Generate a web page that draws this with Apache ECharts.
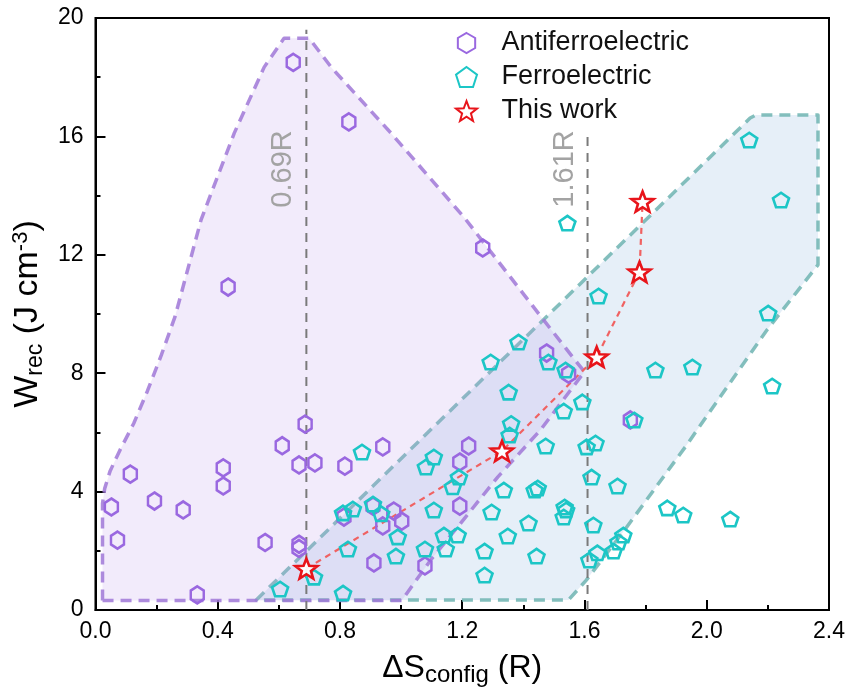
<!DOCTYPE html>
<html>
<head>
<meta charset="utf-8">
<script src="https://cdn.jsdelivr.net/npm/echarts@6/dist/echarts.min.js"></script>
<style>
  html, body { margin: 0; padding: 0; background: #fff; }
  #chart { width: 852px; height: 699px; }
</style>
</head>
<body>
<div id="chart"></div>
<script>
// ---- data ----
const antiferroelectric = [
  [0.052, 3.48], [0.072, 2.36], [0.114, 4.59], [0.193, 3.68], [0.287, 3.38],
  [0.333, 0.51], [0.418, 4.80], [0.418, 4.19], [0.434, 10.91], [0.555, 2.28],
  [0.611, 5.55], [0.647, 18.5], [0.666, 2.22], [0.666, 2.08], [0.666, 4.90],
  [0.686, 6.28], [0.718, 4.97], [0.816, 4.86], [0.813, 3.14], [0.829, 16.49],
  [0.908, 3.51], [0.911, 1.59], [0.940, 5.51], [0.940, 2.84], [0.976, 3.34],
  [1.002, 3.00], [1.078, 1.49], [1.192, 5.00], [1.221, 5.54], [1.192, 3.51],
  [1.267, 12.23], [1.476, 8.68], [1.548, 7.97], [1.750, 6.42]
];
const ferroelectric = [
  [0.604, 0.71], [0.715, 1.11], [0.810, 0.57], [0.826, 2.06], [0.810, 3.28],
  [0.842, 3.41], [0.872, 5.34], [0.908, 3.58], [0.935, 3.25], [0.989, 2.47],
  [0.983, 1.82], [1.078, 2.06], [1.081, 4.83], [1.107, 5.17], [1.107, 3.38],
  [1.140, 2.53], [1.146, 2.06], [1.185, 2.53], [1.169, 4.16], [1.189, 4.49],
  [1.273, 1.99], [1.273, 1.18], [1.296, 3.31], [1.293, 8.38], [1.336, 4.05],
  [1.349, 2.50], [1.352, 7.36], [1.360, 6.30], [1.355, 5.91], [1.384, 9.05],
  [1.417, 2.94], [1.437, 4.05], [1.447, 4.12], [1.443, 1.82], [1.473, 5.54],
  [1.482, 8.38], [1.532, 6.72], [1.538, 8.11], [1.535, 3.48], [1.532, 3.14],
  [1.540, 3.38], [1.544, 13.07], [1.593, 7.03], [1.607, 5.51], [1.636, 5.64],
  [1.623, 4.49], [1.629, 2.87], [1.616, 1.69], [1.642, 1.93], [1.646, 10.61],
  [1.695, 1.99], [1.708, 4.19], [1.711, 2.30], [1.727, 2.53], [1.763, 6.42],
  [1.832, 8.11], [1.871, 3.45], [1.923, 3.21], [1.953, 8.21], [2.077, 3.07],
  [2.139, 15.88], [2.201, 10.03], [2.214, 7.57], [2.243, 13.85]
];
const thisWork = [[0.69, 1.40], [1.33, 5.37], [1.64, 8.55], [1.78, 11.42], [1.79, 13.80]];

// outlines of the two material regions
const afeRegion = [
  [0.023, 0.32], [0.023, 3.60], [0.030, 4.10], [0.048, 4.70], [0.080, 5.40],
  [0.125, 6.30], [0.170, 7.40], [0.215, 8.60], [0.260, 9.90], [0.346, 13.20],
  [0.454, 16.11], [0.552, 18.34], [0.617, 19.32], [0.699, 19.32], [0.771, 18.34],
  [0.967, 16.11], [1.205, 13.28], [1.466, 9.80], [1.577, 8.34], [1.600, 8.05],
  [1.456, 6.08], [1.316, 4.49], [1.211, 3.14], [1.097, 1.69], [1.022, 0.61],
  [1.002, 0.32]
];
const feRegion = [
  [0.526, 0.34], [2.142, 16.62], [2.160, 16.72], [2.364, 16.72], [2.364, 11.66],
  [2.197, 9.46], [1.932, 5.54], [1.736, 2.77], [1.606, 1.01], [1.548, 0.34]
];

// reference entropy lines
const refX = [0.69, 1.61];
const refTop = [19.6, 16.2];
const refText = ['0.69R', '1.61R'];
const refTextY = 14.9;

const xTicks = { min: 0, max: 2.4, step: 0.4 };
const yTicks = { min: 0, max: 20, step: 4 };

// ---- marker shapes ----
const HEX = 'path://M50,0 L93.3,25 L93.3,75 L50,100 L6.7,75 L6.7,25 Z';
const PENT = 'path://M50,0 L97.55,34.55 L79.39,90.45 L20.61,90.45 L2.45,34.55 Z';
function starPath() {
  const R = 50, r = 21, pts = [];
  for (let i = 0; i < 10; i++) {
    const a = -Math.PI / 2 + i * Math.PI / 5;
    const rad = i % 2 === 0 ? R : r;
    pts.push((50 + rad * Math.cos(a)).toFixed(2) + ',' + (50 + rad * Math.sin(a)).toFixed(2));
  }
  return 'path://M' + pts.join(' L') + ' Z';
}
const STAR = starPath();

const FONT = '"Liberation Sans", Arial, sans-serif';

function regionSeries(pts, fill, stroke, z) {
  return {
    type: 'custom', silent: true, z: z,
    data: pts,
    encode: { x: 0, y: 1 },
    renderItem: function (params, api) {
      if (params.dataIndex !== 0) return;
      const points = pts.map(function (p) { return api.coord(p); });
      return {
        type: 'polygon',
        shape: { points: points },
        style: { fill: fill, stroke: stroke, lineWidth: 3.5, lineDash: [11, 7], lineJoin: 'round' }
      };
    }
  };
}

const chart = echarts.init(document.getElementById('chart'), null, { renderer: 'canvas' });

const refLineSeries = refX.map(function (x, i) {
  return {
    type: 'line', silent: true, z: 4, symbol: 'none',
    data: [[x, 0], [x, refTop[i]]],
    lineStyle: { color: '#7a7a7a', width: 2, type: [9, 7] }
  };
});

chart.setOption({
  animation: false,
  backgroundColor: '#fff',
  textStyle: { fontFamily: FONT },
  grid: { left: 94, right: 23, top: 18, bottom: 89, show: true, borderColor: '#000', borderWidth: 2, backgroundColor: 'transparent' },
  legend: {
    data: ['Antiferroelectric', 'Ferroelectric', 'This work'],
    orient: 'vertical', left: 450, top: 23,
    itemWidth: 24, itemHeight: 20, itemGap: 4,
    textStyle: { fontSize: 27, color: '#111', fontFamily: FONT, lineHeight: 30, padding: [0, 0, 0, 18] }
  },
  xAxis: {
    type: 'value', min: xTicks.min, max: xTicks.max, interval: xTicks.step,
    name: '{m|ΔS}{s|config}{m| (R)}', nameLocation: 'middle', nameGap: 38,
    nameTextStyle: {
      rich: {
        m: { fontSize: 32, fontFamily: FONT, color: '#000', lineHeight: 40 },
        s: { fontSize: 24, fontFamily: FONT, color: '#000', lineHeight: 40, padding: [14, 0, 0, 0] }
      }
    },
    axisLine: { onZero: false, lineStyle: { color: '#000', width: 2 } },
    axisTick: { inside: true, length: 10, lineStyle: { color: '#000', width: 2 } },
    minorTick: { show: true, splitNumber: 2, length: 5, lineStyle: { color: '#000', width: 2 } },
    axisLabel: { fontSize: 23, color: '#000', margin: 10, fontFamily: FONT, formatter: function (v) { return v.toFixed(1); } },
    splitLine: { show: false }
  },
  yAxis: {
    type: 'value', min: yTicks.min, max: yTicks.max, interval: yTicks.step,
    name: '{m|W}{s|rec}{m| (J cm}{p|-3}{m|)}', nameLocation: 'middle', nameGap: 44,
    nameTextStyle: {
      rich: {
        m: { fontSize: 34, fontFamily: FONT, color: '#000', lineHeight: 42 },
        s: { fontSize: 23, fontFamily: FONT, color: '#000', lineHeight: 42, padding: [16, 0, 0, 0] },
        p: { fontSize: 22, fontFamily: FONT, color: '#000', lineHeight: 42, padding: [0, 0, 14, 0] }
      }
    },
    axisLine: { onZero: false, lineStyle: { color: '#000', width: 2 } },
    axisTick: { inside: true, length: 10, lineStyle: { color: '#000', width: 2 } },
    minorTick: { show: true, splitNumber: 2, length: 5, lineStyle: { color: '#000', width: 2 } },
    axisLabel: { fontSize: 23, color: '#000', margin: 12, fontFamily: FONT },
    splitLine: { show: false }
  },
  series: [
    regionSeries(feRegion, 'rgba(150,190,225,0.24)', 'rgba(110,180,178,0.85)', 1),
    regionSeries(afeRegion, 'rgba(185,150,232,0.19)', 'rgba(160,120,215,0.85)', 2)
  ].concat(refLineSeries).concat([
    {
      type: 'line', silent: true, z: 5, symbol: 'none',
      data: thisWork,
      lineStyle: { color: '#f06262', width: 2.2, type: [6, 5] }
    },
    {
      name: 'Antiferroelectric', type: 'scatter', z: 6,
      symbol: HEX, symbolSize: [15, 17], symbolKeepAspect: true,
      data: antiferroelectric,
      itemStyle: { color: 'rgba(0,0,0,0)', borderColor: '#9a68e0', borderWidth: 2.6, opacity: 1 }
    },
    {
      name: 'Ferroelectric', type: 'scatter', z: 7,
      symbol: PENT, symbolSize: [16, 15.2], symbolKeepAspect: true,
      data: ferroelectric,
      itemStyle: { color: 'rgba(0,0,0,0)', borderColor: '#1cc6c6', borderWidth: 2.6, opacity: 1 }
    },
    {
      name: 'This work', type: 'scatter', z: 8,
      symbol: STAR, symbolSize: [22, 21], symbolKeepAspect: true,
      data: thisWork,
      itemStyle: { color: 'rgba(255,255,255,0.92)', borderColor: '#e8141a', borderWidth: 2.6, opacity: 1 }
    }
  ])
});

// rotated labels beside the reference lines, placed through the axis scales
const labelGraphics = refX.map(function (x, i) {
  const p = chart.convertToPixel({ gridIndex: 0 }, [x, refTextY]);
  return {
    type: 'text', x: p[0] - 23, y: p[1], rotation: Math.PI / 2, z: 10,
    style: { text: refText[i], fill: '#a3a3a3', font: '29px ' + FONT, align: 'center', verticalAlign: 'middle' }
  };
});
chart.setOption({ graphic: labelGraphics });
</script>
</body>
</html>
